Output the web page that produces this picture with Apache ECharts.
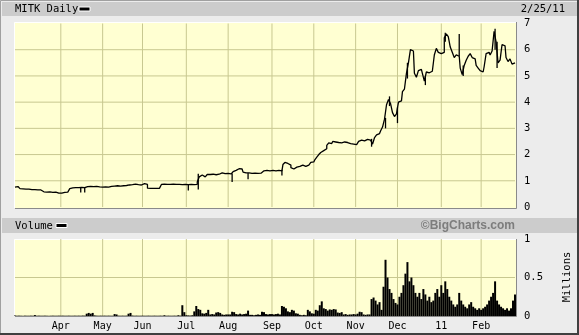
<!DOCTYPE html>
<html><head><meta charset="utf-8">
<script src="https://cdn.jsdelivr.net/npm/echarts@6/dist/echarts.min.js"></script>
<style>html,body{margin:0;padding:0;background:#ececec}#c{width:579px;height:335px}</style>
</head><body><div id="c"></div>
<script>
// trading days per month, Mar 2010 .. Feb 2011 (through 2/25/11)
const monthDays = [23,21,20,22,21,22,21,21,21,22,20,18];
const monthLabels = ["","Apr","May","Jun","Jul","Aug","Sep","Oct","Nov","Dec","11","Feb"];
const priceGridValues = [1,2,3,4,5,6];
const volumeGridValues = [0.5];

// daily closes (USD)
const closes = [
 // Mar
 0.76,0.78,0.74,0.70,0.69,0.68,0.70,0.68,0.66,0.65,0.66,0.65,0.64,0.65,0.58,0.57,0.57,0.58,0.57,0.56,0.57,0.54,0.53,
 // Apr
 0.53,0.54,0.56,0.57,0.57,0.70,0.73,0.74,0.72,0.74,0.75,0.73,0.74,0.78,0.80,0.79,0.78,0.80,0.79,0.77,0.78,
 // May
 0.76,0.77,0.78,0.76,0.79,0.80,0.80,0.81,0.79,0.80,0.81,0.80,0.82,0.84,0.86,0.85,0.87,0.86,0.85,0.84,
 // Jun
 0.88,0.89,0.86,0.72,0.71,0.71,0.72,0.71,0.71,0.72,0.86,0.87,0.86,0.87,0.86,0.87,0.87,0.86,0.86,0.87,0.85,0.86,
 // Jul
 0.86,0.85,0.86,0.84,0.85,0.86,0.95,1.15,1.22,1.15,1.18,1.24,1.24,1.25,1.24,1.23,1.25,1.28,1.30,1.27,1.29,
 // Aug
 1.28,1.26,1.27,1.35,1.40,1.46,1.50,1.45,1.33,1.30,1.30,1.30,1.28,1.29,1.30,1.28,1.29,1.36,1.38,1.40,1.37,1.38,
 // Sep
 1.40,1.41,1.38,1.40,1.42,1.38,1.62,1.70,1.66,1.60,1.50,1.45,1.52,1.48,1.55,1.60,1.58,1.55,1.60,1.66,1.70,
 // Oct
 1.72,1.80,1.90,2.00,2.08,2.15,2.22,2.35,2.45,2.42,2.50,2.48,2.46,2.50,2.45,2.48,2.44,2.46,2.42,2.45,2.40,
 // Nov
 2.38,2.35,2.50,2.55,2.52,2.55,2.58,2.55,2.60,2.40,2.65,2.75,2.80,2.90,3.05,3.35,3.90,4.10,3.95,3.60,3.45,
 // Dec
 3.55,4.00,4.05,4.40,4.50,5.10,5.50,6.00,5.95,5.10,4.95,5.20,5.25,5.10,4.80,5.15,5.12,5.18,5.15,5.80,6.05,5.90,
 // Jan
 5.85,5.90,6.45,6.60,6.50,6.10,5.90,5.70,5.80,5.75,5.30,5.05,5.40,5.60,5.75,5.85,5.70,5.65,5.40,5.30,
 // Feb
 5.20,5.15,5.35,5.85,5.90,5.80,5.95,6.70,6.30,5.50,5.60,6.20,6.15,5.70,5.55,5.65,5.45,5.50
];

// notable daily ranges: [day index, low, high]
const wicks = [
 [33,0.55,0.75],[35,0.55,0.74],[87,0.63,0.86],[92,0.67,1.27],[109,0.95,1.28],[117,1.06,1.30],
 [134,1.20,1.42],[179,2.30,2.60],[186,3.00,3.40],[188,3.85,4.22],[192,3.20,3.80],[197,4.90,5.50],
 [206,4.65,5.00],[216,6.30,6.65],[223,5.75,6.60],[225,5.00,5.40],[241,6.00,6.80],[242,5.30,6.30]
];

// daily volume (millions)
const volumes = [
 // Mar
 0.005,0.004,0.005,0.004,0.003,0.005,0.004,0.004,0.005,0.004,0.012,0.004,0.005,0.004,0.004,0.005,0.004,0.003,0.004,0.005,0.004,0.004,0.005,
 // Apr
 0.004,0.005,0.004,0.004,0.005,0.004,0.004,0.005,0.004,0.005,0.004,0.006,0.005,0.030,0.040,0.030,0.040,0.008,0.005,0.004,0.005,
 // May
 0.004,0.005,0.004,0.005,0.004,0.004,0.025,0.020,0.005,0.004,0.005,0.004,0.005,0.030,0.040,0.006,0.004,0.005,0.004,0.004,
 // Jun
 0.005,0.004,0.004,0.005,0.004,0.004,0.005,0.004,0.004,0.005,0.004,0.010,0.004,0.005,0.004,0.004,0.005,0.004,0.010,0.005,0.140,0.050,
 // Jul
 0.010,0.008,0.006,0.010,0.060,0.130,0.090,0.080,0.035,0.030,0.040,0.080,0.020,0.025,0.020,0.045,0.050,0.040,0.020,0.015,0.020,
 // Aug
 0.020,0.020,0.055,0.050,0.025,0.020,0.030,0.020,0.025,0.030,0.070,0.015,0.015,0.010,0.015,0.020,0.015,0.055,0.050,0.025,0.020,0.025,
 // Sep
 0.025,0.020,0.025,0.030,0.020,0.130,0.120,0.100,0.060,0.050,0.080,0.070,0.035,0.030,0.015,0.010,0.015,0.010,0.080,0.060,0.035,
 // Oct
 0.030,0.080,0.070,0.140,0.190,0.100,0.090,0.070,0.085,0.080,0.090,0.085,0.045,0.040,0.050,0.020,0.025,0.015,0.020,0.020,0.025,
 // Nov
 0.020,0.030,0.055,0.050,0.020,0.015,0.020,0.020,0.220,0.240,0.200,0.150,0.180,0.080,0.380,0.730,0.500,0.350,0.300,0.220,0.170,
 // Dec
 0.150,0.250,0.300,0.400,0.550,0.700,0.450,0.500,0.400,0.300,0.250,0.300,0.220,0.350,0.280,0.200,0.250,0.180,0.200,0.300,0.350,0.250,
 // Jan
 0.400,0.300,0.450,0.350,0.250,0.200,0.150,0.120,0.150,0.300,0.200,0.150,0.120,0.100,0.150,0.180,0.120,0.100,0.080,0.100,
 // Feb
 0.080,0.100,0.120,0.150,0.200,0.250,0.300,0.450,0.200,0.150,0.120,0.100,0.080,0.100,0.070,0.100,0.200,0.280
];

const cats = [], labelOf = {}, starts = new Set(), monthStarts = [];
let k = 0;
monthDays.forEach((n, m) => {
  for (let d = 0; d < n; d++) {
    if (d === 0) { starts.add(k); labelOf[k] = monthLabels[m]; if (k > 0) monthStarts.push(k); }
    cats.push(String(k)); k++;
  }
});
const lastIdx = cats.length - 1;

const MONO = 'DejaVu Sans Mono';
const GRIDC = '#c8c890';
const PBG = '#ffffd2';
const FRAME = '#ececec';
const chart = echarts.init(document.getElementById('c'), null, {renderer: 'canvas'});

function xAx(gi, showLabel) {
  return {
    type: 'category', gridIndex: gi, data: cats, boundaryGap: true,
    axisLine: {show: false}, axisTick: {show: false}, splitLine: {show: false},
    axisLabel: {show: showLabel, interval: (i) => starts.has(i) && i > 0,
      formatter: (v, i) => labelOf[i] || '', color: '#000', fontFamily: MONO, fontSize: 10, margin: 5}
  };
}

// gridlines as two-point line series, placed through the axes
function gridLine(xi, yi, pts) {
  return {type: 'line', xAxisIndex: xi, yAxisIndex: yi, data: pts, symbol: 'none', silent: true, z: 1,
    lineStyle: {color: GRIDC, width: 1}, emphasis: {disabled: true}, tooltip: {show: false}};
}
const gridSeries = [];
monthStarts.forEach((i) => {
  gridSeries.push(gridLine(0, 0, [[i, 0], [i, 7]]));
  gridSeries.push(gridLine(1, 1, [[i, 0], [i, 1]]));
});
priceGridValues.forEach((v) => gridSeries.push(gridLine(0, 0, [[0, v], [lastIdx, v]])));
volumeGridValues.forEach((v) => gridSeries.push(gridLine(1, 1, [[0, v], [lastIdx, v]])));

const fr = (x, y, w, h) => ({type: 'rect', silent: true, shape: {x, y, width: w, height: h}, style: {fill: FRAME}});

chart.setOption({
  animation: false,
  backgroundColor: PBG,
  graphic: [
    fr(0, 0, 579, 22), fr(0, 208, 579, 31), fr(0, 316, 579, 19), fr(0, 0, 14, 335), fr(516, 0, 63, 335),
    {type: 'rect', shape: {x: 0.5, y: 0.5, width: 577, height: 333}, style: {fill: 'none', stroke: '#a0a0a0', lineWidth: 1}},
    {type: 'line', shape: {x1: 578, y1: 0, x2: 578, y2: 335}, style: {stroke: '#404040', lineWidth: 2}},
    {type: 'line', shape: {x1: 0, y1: 334, x2: 579, y2: 334}, style: {stroke: '#404040', lineWidth: 2}},
    {type: 'rect', shape: {x: 2, y: 2, width: 575, height: 14}, style: {fill: '#cccccc'}},
    {type: 'rect', shape: {x: 2, y: 218, width: 575, height: 15}, style: {fill: '#cccccc'}},
    {type: 'polyline', shape: {points: [[14.5,208],[14.5,22.5],[516,22.5]]}, style: {stroke: '#ffffff', lineWidth: 1, fill: 'none'}},
    {type: 'polyline', shape: {points: [[15,208.5],[516.5,208.5],[516.5,22]]}, style: {stroke: '#8a8a8a', lineWidth: 1, fill: 'none'}},
    {type: 'polyline', shape: {points: [[14.5,316],[14.5,239.5],[516,239.5]]}, style: {stroke: '#ffffff', lineWidth: 1, fill: 'none'}},
    {type: 'polyline', shape: {points: [[15,316.5],[516.5,316.5],[516.5,239]]}, style: {stroke: '#8a8a8a', lineWidth: 1, fill: 'none'}},
    {type: 'text', style: {x: 15, y: 9, text: 'MITK Daily', fill: '#000', font: '10.5px "DejaVu Sans Mono"', verticalAlign: 'middle'}},
    {type: 'rect', shape: {x: 79, y: 7, width: 11, height: 4}, style: {fill: '#000', stroke: '#fff', lineWidth: 1}},
    {type: 'text', style: {x: 565, y: 9, text: '2/25/11', fill: '#000', font: '10.5px "DejaVu Sans Mono"', align: 'right', verticalAlign: 'middle'}},
    {type: 'text', style: {x: 15, y: 226, text: 'Volume', fill: '#000', font: '10.5px "DejaVu Sans Mono"', verticalAlign: 'middle'}},
    {type: 'rect', shape: {x: 56, y: 223.5, width: 11, height: 4}, style: {fill: '#000', stroke: '#fff', lineWidth: 1}},
    {type: 'text', style: {x: 515, y: 226, text: '\u00A9BigCharts.com', fill: '#7d7d7d', font: 'bold 12px "Liberation Sans"', align: 'right', verticalAlign: 'middle'}},
    {type: 'text', rotation: Math.PI / 2, x: 567, y: 277, style: {x: 0, y: 0, text: 'Millions', fill: '#000', font: '10.5px "DejaVu Sans Mono"', align: 'center', verticalAlign: 'middle'}}
  ],
  grid: [
    {left: 14, width: 502, top: 23.5, height: 183.5, show: false},
    {left: 14, width: 502, top: 239, height: 77, show: false}
  ],
  xAxis: [xAx(0, false), xAx(1, true)],
  yAxis: [
    {type: 'value', gridIndex: 0, position: 'right', min: 0, max: 7, interval: 1,
     axisLine: {show: false}, axisTick: {show: false}, splitLine: {show: false},
     axisLabel: {color: '#000', fontFamily: MONO, fontSize: 10.5, margin: 8}},
    {type: 'value', gridIndex: 1, position: 'right', min: 0, max: 1, interval: 0.5,
     axisLine: {show: false}, axisTick: {show: false}, splitLine: {show: false},
     axisLabel: {color: '#000', fontFamily: MONO, fontSize: 10.5, margin: 8, formatter: (v) => String(v)}}
  ],
  series: gridSeries.concat([
    {type: 'line', xAxisIndex: 0, yAxisIndex: 0, data: closes, step: 'middle', symbol: 'none',
     lineStyle: {color: '#000', width: 1.3}, z: 3},
    {type: 'custom', xAxisIndex: 0, yAxisIndex: 0, data: wicks, z: 3,
     encode: {x: 0, y: [1, 2]},
     renderItem: (params, api) => {
       const a = api.coord([api.value(0), api.value(1)]);
       const b = api.coord([api.value(0), api.value(2)]);
       return {type: 'line', shape: {x1: a[0], y1: a[1], x2: b[0], y2: b[1]}, style: {stroke: '#000', lineWidth: 1.3}};
     }},
    {type: 'bar', xAxisIndex: 1, yAxisIndex: 1, data: volumes, barCategoryGap: '0%', barWidth: 2,
     itemStyle: {color: '#000'}, z: 3}
  ])
});
</script>
</body></html>
